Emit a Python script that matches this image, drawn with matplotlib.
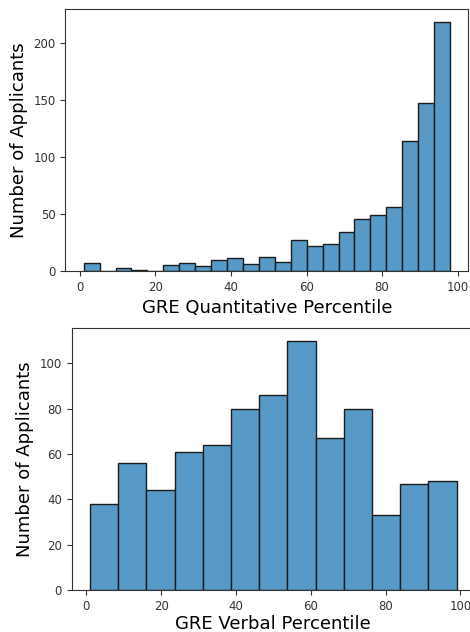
import matplotlib
matplotlib.use("Agg")
import matplotlib.pyplot as plt
import numpy as np

# GRE quantitative percentile histogram (23 bins from 1 to 98)
quant_range = (1, 98)
quant_counts = [7, 0, 3, 1, 0, 5, 7, 4, 10, 11, 6, 12, 8, 27, 22, 24, 34, 46, 49, 56, 114, 148, 219]

# GRE verbal percentile histogram (13 bins from 1 to 99)
verbal_range = (1, 99)
verbal_counts = [38, 56, 44, 61, 64, 80, 86, 110, 67, 80, 33, 47, 48]

bar_color = "#5799c7"
edge_color = "#1c1c1c"

fig = plt.figure(figsize=(4.70, 6.32), dpi=100)

ax1 = fig.add_axes([0.139, 0.5712, 0.8575, 0.414])
ax2 = fig.add_axes([0.1525, 0.0665, 0.858, 0.414])


def draw_hist(ax, counts, rng, xlabel, pad=4.0):
    edges = np.linspace(rng[0], rng[1], len(counts) + 1)
    ax.hist(edges[:-1], bins=edges, weights=counts, color=bar_color,
            edgecolor=edge_color, linewidth=1.0)
    ax.set_xlabel(xlabel, fontsize=13, labelpad=pad)
    ax.set_ylabel("Number of Applicants", fontsize=13)
    ax.tick_params(labelsize=8.5, colors="#333333", labelcolor="#333333")
    ax.set_xticks([0, 20, 40, 60, 80, 100])
    for s in ax.spines.values():
        s.set_color("#333333")


draw_hist(ax1, quant_counts, quant_range, "GRE Quantitative Percentile")
draw_hist(ax2, verbal_counts, verbal_range, "GRE Verbal Percentile", pad=1.5)
ax1.set_yticks([0, 50, 100, 150, 200])
ax2.set_yticks([0, 20, 40, 60, 80, 100])

fig.savefig("out.png", dpi=100)
